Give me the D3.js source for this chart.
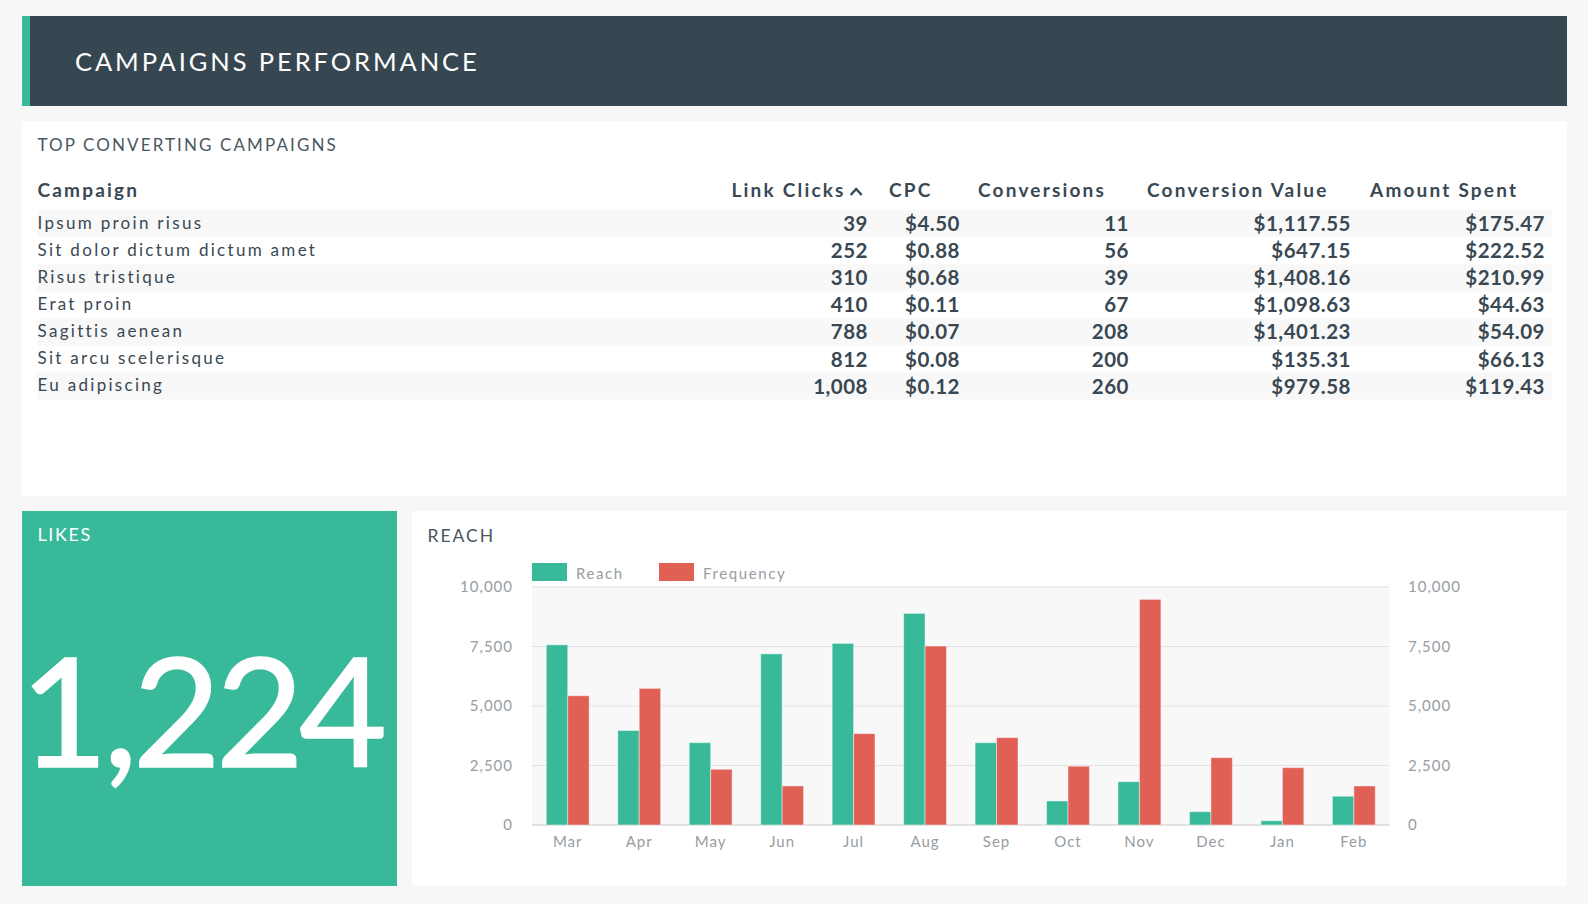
<!DOCTYPE html>
<html><head><meta charset="utf-8">
<script src="https://cdn.jsdelivr.net/npm/d3@7/dist/d3.min.js"></script>
<style>
html,body{margin:0;padding:0;background:#f7f7f7;}
svg{display:block;font-family:Lato,"Open Sans",sans-serif;}
</style></head><body>
<svg id="c" width="1588" height="904"></svg>
<script>
// ---------- DATA ----------
const pageTitle = "CAMPAIGNS PERFORMANCE";
const tableTitle = "TOP CONVERTING CAMPAIGNS";
const campaigns = ["Ipsum proin risus","Sit dolor dictum dictum amet","Risus tristique","Erat proin","Sagittis aenean","Sit arcu scelerisque","Eu adipiscing"];
const linkClicks = [39,252,310,410,788,812,1008];
const cpc = [4.50,0.88,0.68,0.11,0.07,0.08,0.12];
const conversions = [11,56,39,67,208,200,260];
const conversionValue = [1117.55,647.15,1408.16,1098.63,1401.23,135.31,979.58];
const amountSpent = [175.47,222.52,210.99,44.63,54.09,66.13,119.43];
const columnTitles = ["Campaign","Link Clicks","CPC","Conversions","Conversion Value","Amount Spent"];

const likesTitle = "LIKES";
const likesValue = 1224;

const chartTitle = "REACH";
const months = ["Mar","Apr","May","Jun","Jul","Aug","Sep","Oct","Nov","Dec","Jan","Feb"];
const reach = [7570,3970,3460,7190,7630,8890,3460,1010,1820,560,180,1210];
const frequency = [5430,5740,2340,1640,3840,7520,3670,2470,9480,2830,2410,1640];
const seriesNames = ["Reach","Frequency"];
const yTicks = [0,2500,5000,7500,10000];

// ---------- STYLE ----------
const C = {bg:"#f7f7f7", dark:"#374751", teal:"#38b99a", red:"#e06055", text:"#394852", title:"#4a5660", axis:"#979da2", grid:"#e2e2e2", plot:"#f8f8f8", band:"#f8f8f8"};

const svg = d3.select("#c");
svg.append("rect").attr("width",1588).attr("height",904).attr("fill",C.bg);

// Header
svg.append("rect").attr("x",22).attr("y",16).attr("width",1545).attr("height",90).attr("fill",C.dark);
svg.append("rect").attr("x",22).attr("y",16).attr("width",8).attr("height",90).attr("fill",C.teal);
svg.append("text").attr("x",75).attr("y",71).attr("fill","#fff").attr("font-size",25.5)
  .attr("letter-spacing",2.9).text(pageTitle);

// Table panel
svg.append("rect").attr("x",22).attr("y",121).attr("width",1545).attr("height",375).attr("fill","#fff");
svg.append("text").attr("x",37.5).attr("y",151).attr("fill",C.title).attr("font-size",17)
  .attr("letter-spacing",2.1).text(tableTitle);

const rowY = d3.scaleBand().domain(d3.range(campaigns.length)).range([210,210+27.1*campaigns.length]).padding(0);
const tg = svg.append("g");
tg.selectAll("rect.band").data(d3.range(campaigns.length).filter(i=>i%2===0)).join("rect")
  .attr("x",37.5).attr("y",i=>rowY(i)).attr("width",1514).attr("height",rowY.bandwidth()).attr("fill",C.band);

const fmtInt = d3.format(","), fmtMoney = d3.format("$,.2f");
const colHeaderX = [37.5,731.5,889,978,1147,1370];
const colRightX = [null,868,960,1129,1351,1545];
const colValues = [campaigns, linkClicks.map(fmtInt), cpc.map(fmtMoney), conversions.map(fmtInt), conversionValue.map(fmtMoney), amountSpent.map(fmtMoney)];

columnTitles.forEach((t,ci)=>{
  const h = tg.append("text").attr("x",colHeaderX[ci]).attr("y",196.7).attr("fill",C.text)
    .attr("font-size",19).attr("font-weight",700).attr("letter-spacing",2.2).text(t);
  if (ci===1) {
    const w = h.node().getComputedTextLength();
    const cx = colHeaderX[ci] + w + 5;
    tg.append("path").attr("d",`M${cx},195 L${cx+5.5},189 L${cx+11},195`).attr("fill","none")
      .attr("stroke",C.text).attr("stroke-width",2.4);
  }
});
campaigns.forEach((name,i)=>{
  tg.append("text").attr("x",37.5).attr("y",rowY(i)+18.8).attr("fill",C.text)
    .attr("font-size",17).attr("letter-spacing",2.3).text(name);
});
for (let ci=1; ci<colValues.length; ci++) {
  colValues[ci].forEach((v,i)=>{
    tg.append("text").attr("x",colRightX[ci]).attr("y",rowY(i)+21).attr("text-anchor","end")
      .attr("fill",C.text).attr("font-size",20.5).attr("font-weight",700).attr("letter-spacing",0.5).text(v);
  });
}

// Likes panel
svg.append("rect").attr("x",22).attr("y",511).attr("width",375).attr("height",375).attr("fill",C.teal);
svg.append("text").attr("x",37.5).attr("y",541.3).attr("fill","#fff").attr("font-size",18)
  .attr("letter-spacing",1.6).text(likesTitle);
svg.append("text").attr("x",20).attr("y",767.3).attr("fill","#fff").attr("font-size",152)
  .attr("letter-spacing",-5).attr("stroke","#fff").attr("stroke-width",1.5).text(fmtInt(likesValue));

// Reach panel
svg.append("rect").attr("x",412).attr("y",511).attr("width",1155).attr("height",375).attr("fill","#fff");
svg.append("text").attr("x",427.5).attr("y",541.7).attr("fill",C.title).attr("font-size",17.5)
  .attr("letter-spacing",2).text(chartTitle);

const x0 = d3.scaleBand().domain(months).range([532,1389.6]).paddingInner(0.4).paddingOuter(0.2);
const x1 = d3.scaleBand().domain(seriesNames).range([0,x0.bandwidth()]).padding(0);
const y = d3.scaleLinear().domain([0,10000]).range([825,587]);
const colors = d3.scaleOrdinal().domain(seriesNames).range([C.teal,C.red]);

const cg = svg.append("g");
cg.append("rect").attr("x",532).attr("y",587).attr("width",1389.6-532).attr("height",825-587).attr("fill",C.plot);
cg.append("g").selectAll("line").data(yTicks).join("line")
  .attr("x1",532).attr("x2",1389.6).attr("y1",d=>y(d)).attr("y2",d=>y(d))
  .attr("stroke",C.grid).attr("stroke-width",d=>d===0?2:1.2);

const yLeft = d3.axisLeft(y).tickValues(yTicks).tickFormat(d3.format(",")).tickSize(0).tickPadding(0);
const yRight = d3.axisRight(y).tickValues(yTicks).tickFormat(d3.format(",")).tickSize(0).tickPadding(0);
const gl = cg.append("g").attr("transform","translate(513,0)").call(yLeft);
const gr = cg.append("g").attr("transform","translate(1408,0)").call(yRight);
const xAxis = d3.axisBottom(x0).tickSize(0).tickPadding(0);
const gx = cg.append("g").attr("transform","translate(0,847)").call(xAxis);
[gl,gr,gx].forEach(g=>{
  g.select(".domain").remove();
  g.selectAll("text").attr("fill",C.axis).attr("font-size",15).attr("letter-spacing",1)
    .attr("font-family","Lato, sans-serif");
});
gx.selectAll("text").attr("dy",0);

const data = months.map((m,i)=>({m, vals:[{s:"Reach",v:reach[i]},{s:"Frequency",v:frequency[i]}]}));
cg.append("g").selectAll("g").data(data).join("g").attr("transform",d=>`translate(${x0(d.m)},0)`)
  .selectAll("rect").data(d=>d.vals).join("rect")
  .attr("x",d=>x1(d.s)).attr("width",x1.bandwidth())
  .attr("y",d=>y(d.v)).attr("height",d=>y(0)-y(d.v))
  .attr("fill",d=>colors(d.s)).attr("stroke","rgba(255,255,255,0.45)").attr("stroke-width",1);

// Legend
const lg = svg.append("g");
const legX = [532,659];
seriesNames.forEach((s,i)=>{
  lg.append("rect").attr("x",legX[i]).attr("y",563).attr("width",35).attr("height",18).attr("fill",colors(s));
  lg.append("text").attr("x",legX[i]+44).attr("y",579).attr("fill",C.axis).attr("font-size",15)
    .attr("letter-spacing",1.6).text(s);
});
</script>
</body></html>
